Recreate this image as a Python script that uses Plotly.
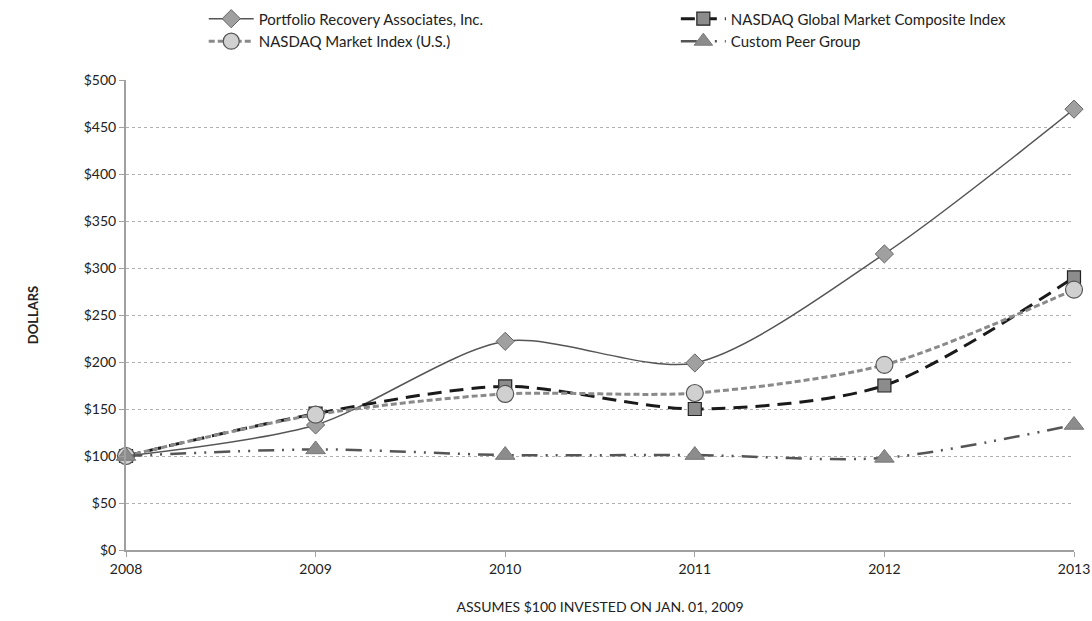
import plotly.graph_objects as go

years = [2008, 2009, 2010, 2011, 2012, 2013]
pra = [100, 133, 222, 199, 315, 469]
nasdaq_global = [100, 145, 174, 150, 175, 290]
nasdaq_market = [100, 144, 166, 167, 197, 277]
peer_group = [100, 107, 101, 101, 98, 133]
y_ticks = [0, 50, 100, 150, 200, 250, 300, 350, 400, 450, 500]
y_tick_labels = ["$" + str(v) for v in y_ticks]

FONT = "Lato, 'Open Sans', sans-serif"

fig = go.Figure()
fig.add_trace(go.Scatter(
    x=years, y=pra, name="Portfolio Recovery Associates, Inc.", legend="legend",
    mode="lines+markers", line=dict(color="#555555", width=1.5, shape="spline", smoothing=0.8),
    marker=dict(symbol="diamond", size=14, color="#a0a0a0", line=dict(color="#666666", width=1)),
    cliponaxis=False))
fig.add_trace(go.Scatter(
    x=years, y=nasdaq_global, name="NASDAQ Global Market Composite Index", legend="legend2",
    mode="lines+markers", line=dict(color="#1a1a1a", width=3, dash="14px,8px", shape="spline", smoothing=0.8),
    marker=dict(symbol="square", size=13, color="#8c8c8c", line=dict(color="#222222", width=1.2)),
    cliponaxis=False))
fig.add_trace(go.Scatter(
    x=years, y=nasdaq_market, name="NASDAQ Market Index (U.S.)", legend="legend",
    mode="lines+markers", line=dict(color="#8a8a8a", width=3, dash="6px,3px", shape="spline", smoothing=0.8),
    marker=dict(symbol="circle", size=17, color="#d0d0d0", line=dict(color="#555555", width=1.2)),
    cliponaxis=False))
fig.add_trace(go.Scatter(
    x=years, y=peer_group, name="Custom Peer Group", legend="legend2",
    mode="lines+markers", line=dict(color="#555555", width=2.5, dash="16px,8px,2px,8px,2px,8px", shape="spline", smoothing=0.8),
    marker=dict(symbol="triangle-up", size=17, color="#8c8c8c", line=dict(color="#777777", width=1)),
    cliponaxis=False))

legend_common = dict(orientation="v", yanchor="top", xanchor="left", traceorder="normal",
                     font=dict(family=FONT, size=15, color="#222222"),
                     bgcolor="rgba(0,0,0,0)", tracegroupgap=0, itemwidth=45)

fig.update_layout(
    width=1092, height=621,
    margin=dict(l=126, r=18, t=80, b=71, autoexpand=False),
    paper_bgcolor="white", plot_bgcolor="white",
    font=dict(family=FONT, size=14, color="#222222"),
    hovermode=False,
    legend=dict(x=0.082, y=1.165, **legend_common),
    legend2=dict(x=0.580, y=1.165, **legend_common),
    xaxis=dict(range=[2008, 2013], tickmode="array", tickvals=years,
               ticktext=[str(y) for y in years], showgrid=False, zeroline=False,
               showline=True, linecolor="#a0a0a0", linewidth=2,
               ticks="outside", ticklen=5, tickcolor="#a0a0a0",
               title=dict(text="ASSUMES $100 INVESTED ON JAN. 01, 2009", standoff=26,
                          font=dict(family=FONT, size=14, color="#222222"))),
    yaxis=dict(range=[0, 500], tickmode="array", tickvals=y_ticks, ticktext=y_tick_labels,
               showgrid=True, gridcolor="#b0b0b0", griddash="dot", gridwidth=1,
               zeroline=False, showline=True, linecolor="#a0a0a0", linewidth=2,
               ticks="outside", ticklen=5, tickcolor="#a0a0a0",
               title=dict(text="<b>DOLLARS</b>", standoff=42,
                          font=dict(family=FONT, size=13, color="#222222"))),
)

fig.write_html("out.html")
